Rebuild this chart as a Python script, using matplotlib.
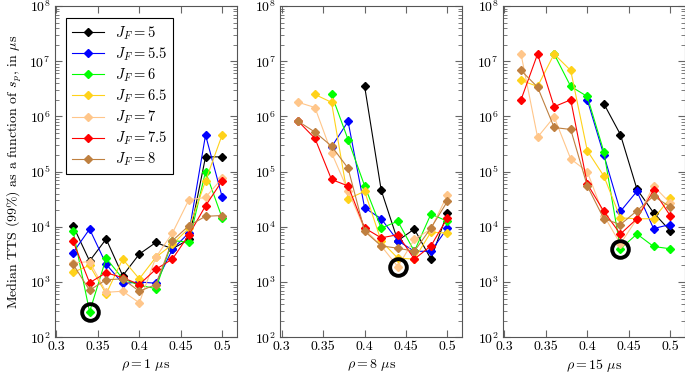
import numpy as np
import matplotlib
matplotlib.use('Agg')
import matplotlib.pyplot as plt
from matplotlib.ticker import LogLocator, FixedLocator, NullFormatter

plt.rcParams['font.family'] = ['cmr10', 'DejaVu Serif']
plt.rcParams['mathtext.fontset'] = 'cm'
plt.rcParams['axes.formatter.use_mathtext'] = True
plt.rcParams['font.size'] = 10

s_p = [0.32, 0.34, 0.36, 0.38, 0.40, 0.42, 0.44, 0.46, 0.48, 0.50]
j_f = ['5', '5.5', '6', '6.5', '7', '7.5', '8']
colors = ['black', 'blue', '#00FF00', '#FFD21A', '#FFC68A', 'red', '#BF8040']
rho_labels = [r'$\rho = 1\ \mu\mathrm{s}$', r'$\rho = 8\ \mu\mathrm{s}$', r'$\rho = 15\ \mu\mathrm{s}$']

nan = np.nan
# median TTS per J_F, rho = 1 us
tts_rho1 = [
    [1.05e4, 2.4e3, 6.0e3, 1.3e3, 3.2e3, 5.2e3, 4.0e3, 5.9e3, 1.85e5, 1.85e5],
    [3.4e3, 9.1e3, 2.1e3, 9.4e2, 1.0e3, 9.5e2, 3.9e3, 7.8e3, 4.6e5, 3.5e4],
    [8.5e3, 2.87e2, 2.7e3, 1.15e3, 8.7e2, 7.6e2, 5.6e3, 5.3e3, 1.0e5, 1.45e4],
    [1.5e3, 2.0e3, 6.1e2, 2.6e3, 1.14e3, 2.8e3, 4.8e3, 9.5e3, 6.8e4, 4.6e5],
    [2.2e3, 2.35e3, 6.5e2, 6.8e2, 4.2e2, 2.8e3, 7.7e3, 3.1e4, 3.4e4, 7.6e4],
    [5.5e3, 9.7e2, 1.47e3, 1.2e3, 9.0e2, 1.7e3, 2.6e3, 7.2e3, 2.4e4, 6.8e4],
    [2.1e3, 7.1e2, 1.1e3, 1.14e3, 6.8e2, 9.0e2, 5.6e3, 1.05e4, 1.55e4, 1.6e4],
]
# rho = 8 us
tts_rho8 = [
    [nan, nan, nan, nan, 3.5e6, 4.6e4, 5.6e3, 9.1e3, 2.6e3, 1.8e4],
    [nan, nan, 2.8e5, 8.1e5, 2.2e4, 1.4e4, 5.6e3, 3.6e3, 3.6e3, 9.5e3],
    [nan, nan, 2.5e6, 3.8e5, 5.5e4, 9.5e3, 1.26e4, 3.6e3, 1.7e4, 1.26e4],
    [nan, 2.5e6, 1.8e6, 3.2e4, 4.4e4, 5.5e3, 2.7e3, 2.6e3, 8.0e3, 7.7e3],
    [1.8e6, 1.45e6, 2.2e5, 4.5e4, 9.0e3, 4.5e3, 1.9e3, 5.9e3, 9.1e3, 3.8e4],
    [8.1e5, 4.0e5, 7.2e4, 5.5e4, 9.5e3, 6.3e3, 7.2e3, 2.6e3, 4.5e3, 1.45e4],
    [8.1e5, 5.2e5, 2.9e5, 1.15e5, 8.3e3, 4.5e3, 4.1e3, 3.6e3, 9.5e3, 2.9e4],
]
# rho = 15 us
tts_rho15 = [
    [nan, nan, nan, nan, nan, 1.7e6, 4.7e5, 4.8e4, 1.8e4, 8.5e3],
    [nan, nan, nan, nan, 2.0e6, 2.0e5, 1.9e4, 4.4e4, 9.3e3, 1.1e4],
    [nan, nan, 1.35e7, 3.5e6, 2.3e6, 2.3e5, 4.0e3, 7.4e3, 4.4e3, 4.0e3],
    [4.5e6, 3.5e6, 1.35e7, 6.8e6, 2.4e5, 8.3e4, 1.45e4, 1.4e4, 1.4e4, 3.3e4],
    [1.35e7, 4.2e5, 9.8e5, 1.7e5, 1.0e5, 1.6e4, 4.9e3, 1.4e4, 5.5e4, 2.7e4],
    [2.0e6, 1.35e7, 1.5e6, 2.0e6, 6.0e4, 1.9e4, 7.4e3, 1.4e4, 4.6e4, 1.6e4],
    [6.8e6, 3.4e6, 6.3e5, 5.8e5, 5.5e4, 1.4e4, 1.1e4, 1.95e4, 3.6e4, 2.3e4],
]
# circled best point in each panel
best_x = [0.34, 0.44, 0.44]
best_y = [2.87e2, 1.9e3, 4.0e3]

fig = plt.figure(figsize=(6.85, 3.78), dpi=100)
lefts = [0.080, 0.409, 0.734]
width = 0.266
all_data = [tts_rho1, tts_rho8, tts_rho15]

for k in range(3):
    ax = fig.add_axes([lefts[k], 0.108, width, 0.876])
    for i in range(len(j_f)):
        ax.plot(s_p, all_data[k][i], color=colors[i], marker='D', markersize=4.3,
                linewidth=0.8, label=r'$J_F = %s$' % j_f[i])
    ax.plot(best_x[k], best_y[k], 'o', markersize=12, markerfacecolor='none',
            markeredgecolor='black', markeredgewidth=2.8)
    ax.set_yscale('log')
    ax.set_ylim(1e2, 1e8)
    ax.set_xlim(0.298, 0.518)
    ax.xaxis.set_major_locator(FixedLocator([0.3, 0.35, 0.4, 0.45, 0.5]))
    ax.set_xticklabels(['0.3', '0.35', '0.4', '0.45', '0.5'])
    ax.yaxis.set_major_locator(LogLocator(base=10, numticks=10))
    ax.yaxis.set_minor_locator(LogLocator(base=10, subs=np.arange(2, 10), numticks=20))
    ax.yaxis.set_minor_formatter(NullFormatter())
    ax.tick_params(which='both', direction='in', top=True, right=True, color='#666666')
    ax.tick_params(which='major', length=5, labelsize=10, pad=3)
    ax.tick_params(which='minor', length=3)
    for sp in ax.spines.values():
        sp.set_color('#555555')
    ax.set_xlabel(rho_labels[k], fontsize=10, labelpad=2.5)
    if k == 0:
        ax.set_ylabel(r'Median TTS (99%) as a function of $s_p$, in $\mu\mathrm{s}$', fontsize=10)
        leg = ax.legend(loc='upper left', fontsize=10.5, fancybox=False, framealpha=1,
                        edgecolor='black', handlelength=2.2, borderpad=0.4,
                        labelspacing=0.25, bbox_to_anchor=(0.02, 0.985))
        leg.get_frame().set_linewidth(0.8)

plt.savefig('out.png', dpi=100)
